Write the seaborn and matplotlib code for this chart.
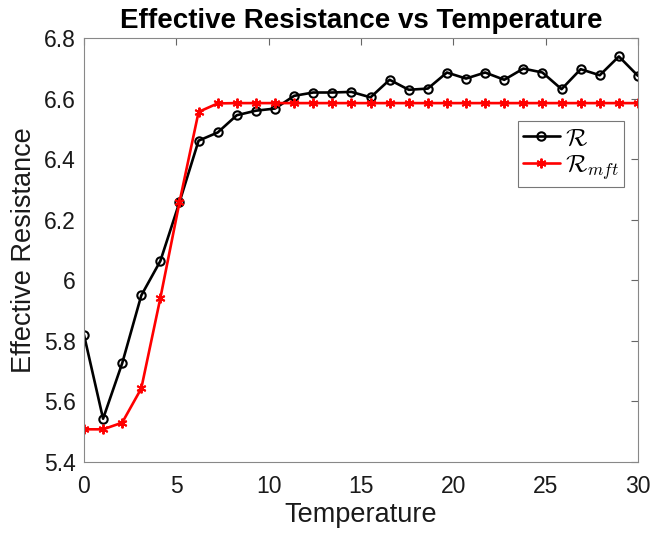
import numpy as np
import pandas as pd
import seaborn as sns
import matplotlib.pyplot as plt

# data
temperature = np.linspace(0, 30, 30)
resistance = [5.82, 5.543, 5.726, 5.95, 6.064, 6.258, 6.461, 6.488, 6.545, 6.56,
              6.567, 6.609, 6.62, 6.62, 6.622, 6.604, 6.662, 6.629, 6.633, 6.686,
              6.666, 6.686, 6.662, 6.699, 6.686, 6.631, 6.697, 6.677, 6.739, 6.675]
resistance_mft = [5.508, 5.508, 5.53, 5.643, 5.942, 6.258, 6.556, 6.584, 6.585, 6.585,
                  6.585, 6.585, 6.585, 6.585, 6.585, 6.585, 6.585, 6.585, 6.585, 6.585,
                  6.585, 6.585, 6.585, 6.585, 6.585, 6.585, 6.585, 6.585, 6.585, 6.585]

sns.set_style("white")
plt.rcParams['font.family'] = ['Liberation Sans', 'DejaVu Sans']
plt.rcParams['mathtext.fontset'] = 'cm'
plt.rcParams['text.color'] = 'black'
plt.rcParams['axes.labelcolor'] = 'black'
plt.rcParams['xtick.color'] = 'black'
plt.rcParams['ytick.color'] = 'black'

df = pd.DataFrame({"T": temperature, "R": resistance, "Rmft": resistance_mft})

fig = plt.figure(figsize=(6.54, 5.35), dpi=100)
ax = fig.add_axes([0.1284, 0.1364, 0.8471, 0.7926])

sns.lineplot(data=df, x="T", y="R", ax=ax, color="black", linewidth=1.9,
             linestyle="-", marker="o", markersize=6, markerfacecolor="none",
             markeredgecolor="black", markeredgewidth=1.5,
             label=r"$\mathcal{R}$")
sns.lineplot(data=df, x="T", y="Rmft", ax=ax, color="red", linewidth=1.9,
             linestyle="-", marker=(6, 2, 0), markersize=7,
             markeredgecolor="red", markeredgewidth=1.4,
             label=r"$\mathcal{R}_{mft}$")

ax.set_xlim(0, 30)
ax.set_ylim(5.4, 6.8)
ax.set_xticks([0, 5, 10, 15, 20, 25, 30])
ax.set_yticks([5.4, 5.6, 5.8, 6.0, 6.2, 6.4, 6.6, 6.8])
ax.set_yticklabels(["5.4", "5.6", "5.8", "6", "6.2", "6.4", "6.6", "6.8"])
ax.tick_params(direction="in", top=True, right=True, length=5, width=0.8,
               color="#666666", labelcolor="#1a1a1a", labelsize=16.5)
ax.tick_params(axis="x", pad=9)
ax.tick_params(axis="y", pad=6)
for s in ax.spines.values():
    s.set_color("#888888")
    s.set_linewidth(0.8)

ax.set_xlabel("Temperature", fontsize=19.5, labelpad=3, color="#1a1a1a")
ax.set_ylabel("Effective Resistance", fontsize=19.5, labelpad=5, color="#1a1a1a")
ax.set_title("Effective Resistance vs Temperature", fontsize=20,
             fontweight="bold", pad=7)

leg = ax.legend(loc="upper right", bbox_to_anchor=(0.975, 0.804), fontsize=18,
                frameon=True, fancybox=False, borderpad=0.2, handlelength=1.5,
                labelspacing=0.12, handletextpad=0.2, borderaxespad=0)
leg.get_frame().set_edgecolor("#555555")
leg.get_frame().set_linewidth(0.8)

fig.savefig("out.png", dpi=100)
